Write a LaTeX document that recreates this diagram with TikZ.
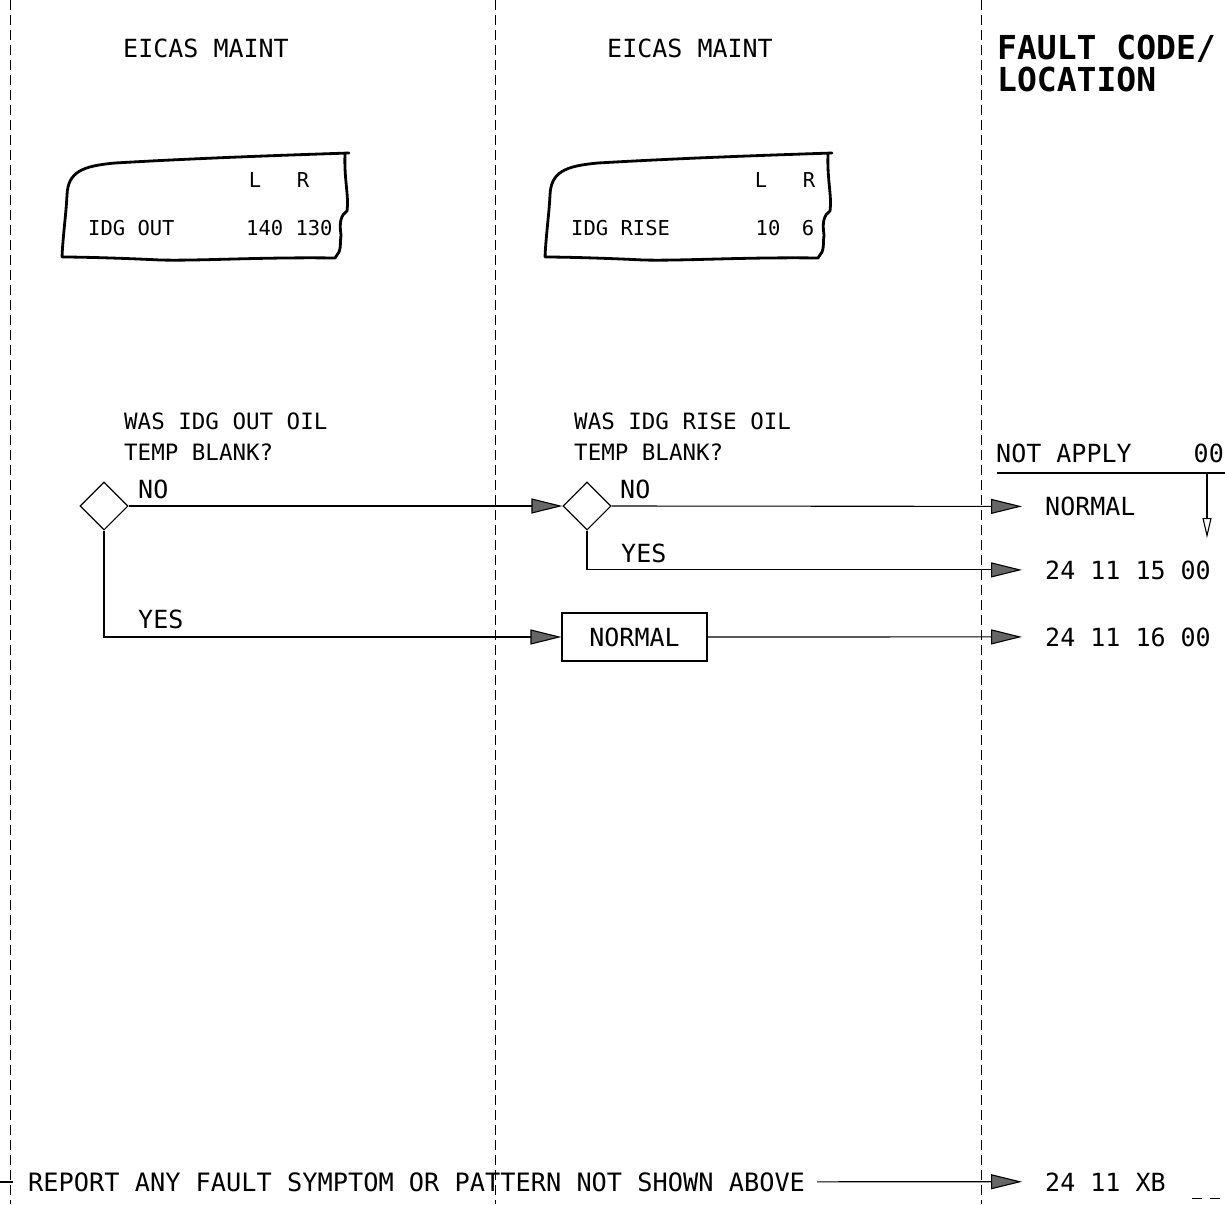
\documentclass[tikz,border=0pt]{standalone}
\usepackage{fontspec}
\setmainfont{DejaVu Sans Mono}
\usetikzlibrary{arrows.meta,positioning,shapes.geometric}

\begin{document}
\begin{tikzpicture}[
    x=1pt, y=-1pt,
    column/.style={line width=0.9pt, dash pattern=on 10pt off 5pt},
    screen/.style={line width=2.8pt, line join=round, line cap=round},
    scrtext/.style={font=\fontsize{20.5}{24}\selectfont, inner sep=0, anchor=base},
    heading/.style={font=\fontsize{25}{30}\selectfont, inner sep=0, anchor=base},
    title/.style={font=\bfseries\fontsize{33}{34}\selectfont, inner sep=0, anchor=base west},
    question/.style={font=\fontsize{22.5}{31}\selectfont, inner sep=0, anchor=base west},
    branch/.style={font=\fontsize{25}{30}\selectfont, inner sep=0, anchor=base west},
    decision/.style={draw, diamond, line width=1.1pt, minimum width=48pt, minimum height=48pt, inner sep=0},
    action/.style={draw, line width=1.1pt, minimum width=145pt, minimum height=48pt, font=\fontsize{25}{30}\selectfont},
    faultcode/.style={font=\fontsize{25}{30}\selectfont, inner xsep=23pt, inner ysep=0, anchor=base west},
    flow/.style={line width=1.1pt, -{Triangle[length=31pt, width=15pt, fill=black!60]}},
    drop/.style={line width=1.1pt, -{Triangle[open, length=20pt, width=9pt]}}
]

\useasboundingbox (0,0) rectangle (1225,1204);

% column separators
\foreach \cx in {10,495,981} {
    \draw[column] (\cx,0) -- (\cx,1204);
}
\draw[line width=1.1pt] (0,1182) -- (13,1182);
\draw[line width=0.9pt, dash pattern=on 10pt off 8pt] (1192,1198) -- (1225,1198);

% column headings
\node[heading] (head_left) at (206,58) {EICAS MAINT};
\node[heading] (head_mid) at (690,58) {EICAS MAINT};
\node[title] (head_code) at (997,60) {FAULT CODE/};
\node[title] (head_loc) at (997,92) {LOCATION};

% EICAS maintenance page outlines
\foreach \dx in {0,483} {
    \draw[screen, xshift=\dx pt] (62,257)
        .. controls (63,235) and (66,215) .. (67,195)
        .. controls (68,172) and (82,166) .. (115,163)
        .. controls (200,158) and (290,155) .. (349,153)
        (345,154) .. controls (344,180) and (349,195) .. (347,211)
        .. controls (341,215) and (339,222) .. (341,235)
        .. controls (340,242) and (341,248) .. (339,252) -- (335,258)
        .. controls (260,257) and (200,261) .. (160,260)
        .. controls (120,258) and (80,257) .. (62,257);
}

\node[scrtext, anchor=base west] (s1_name) at (88,235) {IDG OUT};
\node[scrtext] (s1_l) at (255,187) {L};
\node[scrtext] (s1_r) at (303,187) {R};
\node[scrtext, anchor=base west] (s1_vals) at (246,235) {140 130};

\node[scrtext, anchor=base west] (s2_name) at (571,235) {IDG RISE};
\node[scrtext] (s2_l) at (761,187) {L};
\node[scrtext] (s2_r) at (809,187) {R};
\node[scrtext] (s2_lval) at (768,235) {10};
\node[scrtext] (s2_rval) at (808,235) {6};

% questions
\node[question] (q_out_t1) at (124,429) {WAS IDG OUT OIL};
\node[question] (q_out_t2) at (124,460) {TEMP BLANK?};
\node[question] (q_rise_t1) at (574,429) {WAS IDG RISE OIL};
\node[question] (q_rise_t2) at (574,460) {TEMP BLANK?};

\node[decision] (q_out) at (104,506) {};
\node[decision] (q_rise) at (587,506) {};
\node[action] (n_normal) at (634.5,637) {NORMAL};

\node[branch] (out_no) at (138,498) {NO};
\node[branch] (out_yes) at (138,628) {YES};
\node[branch] (rise_no) at (620,498) {NO};
\node[branch] (rise_yes) at (621,562) {YES};

% fault codes
\node[branch] (na_label) at (996,462) {NOT APPLY};
\node[branch, anchor=base east] (na_code) at (1224,462) {00};
\coordinate (na_left) at (997,473);
\coordinate (na_right) at (1225,473);
\coordinate (na_drop) at (1207,473);
\coordinate (na_end) at (1207,538);
\draw[line width=1.1pt] (na_left) -- (na_right);
\draw[drop] (na_drop) -- (na_end);

\node[faultcode] (code_normal) at (1022,515.5) {NORMAL};
\node[faultcode] (code_1500) at (1022,579) {24 11 15 00};
\node[faultcode] (code_1600) at (1022,646) {24 11 16 00};
\node[faultcode] (code_xb) at (1022,1191) {24 11 XB};

\node[branch, inner xsep=12pt, font=\fontsize{25.3}{30}\selectfont] (report) at (16,1191) {REPORT ANY FAULT SYMPTOM OR PATTERN NOT SHOWN ABOVE};

% connectors
\draw[flow] (q_out.east) -- (q_rise.west);
\draw[flow] (q_out.south) |- (n_normal.west);
\draw[flow] (q_rise.east) -- (code_normal.west);
\draw[flow] (q_rise.south) |- (code_1500.west);
\draw[flow] (n_normal.east) -- (code_1600.west);
\draw[flow] (report.east) -- (code_xb.west);

\end{tikzpicture}
\end{document}
